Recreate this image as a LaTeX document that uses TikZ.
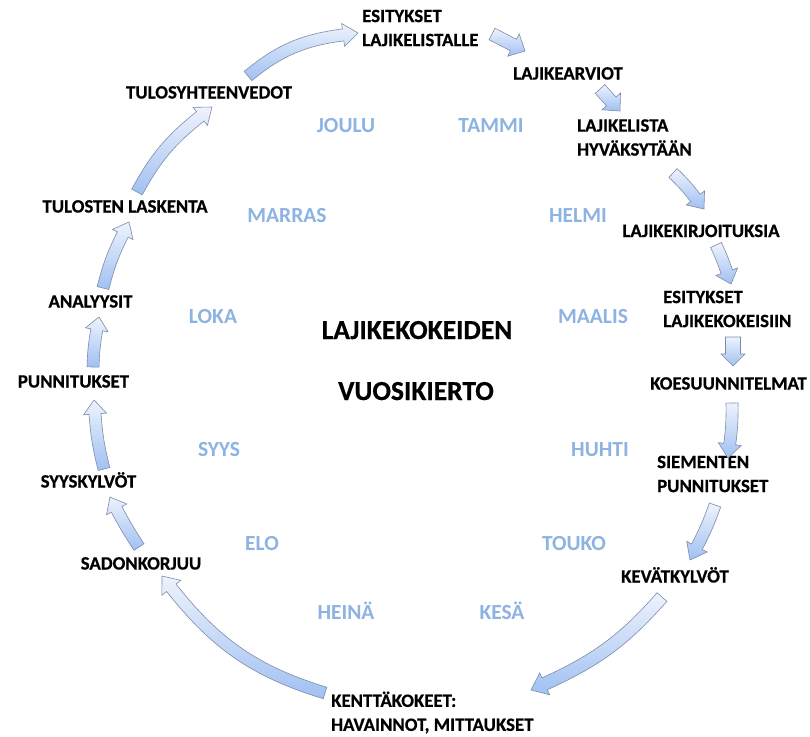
\documentclass[tikz,border=0pt]{standalone}
\usepackage{fontspec}
\setmainfont{Carlito}
\newfontfamily\heavyfont{Carlito}[BoldFeatures={FakeBold=0.6}]
\usetikzlibrary{calc}
\definecolor{monblue}{RGB}{141,179,226}
\definecolor{arrtop}{RGB}{238,243,252}
\definecolor{arrbot}{RGB}{160,192,242}
\definecolor{arredge}{RGB}{125,140,170}
% #1 tail coord, #2 tip coord, #3 bend, #4 shaft half width, #5 head half width, #6 head length
\newcommand\blockarr[6]{%
  \pgfpointanchor{#1}{center}\pgfgetlastxy{\bTx}{\bTy}%
  \pgfpointanchor{#2}{center}\pgfgetlastxy{\bHx}{\bHy}%
  \pgfmathsetmacro\bE{atan2(\bHy-\bTy,\bHx-\bTx)-(#3)}%
  \pgfmathsetmacro\bEb{\bE+180}%
  \coordinate (#1base) at ($(#2)+(\bEb:#6pt)$);%
  \pgfpointanchor{#1base}{center}\pgfgetlastxy{\bBx}{\bBy}%
  \pgfmathsetmacro\bS{2*atan2(\bBy-\bTy,\bBx-\bTx)-\bE}%
  \pgfmathsetmacro\bSb{\bS+180}%
  \pgfmathsetmacro\bSp{\bS+90}\pgfmathsetmacro\bSm{\bS-90}%
  \pgfmathsetmacro\bEp{\bE+90}\pgfmathsetmacro\bEm{\bE-90}%
  \draw[arrsty] ($(#1)+(\bSp:#4pt)$) to[out=\bS,in=\bEb] ($(#1base)+(\bEp:#4pt)$)
    -- ($(#1base)+(\bEp:#5pt)$) -- (#2) -- ($(#1base)+(\bEm:#5pt)$)
    -- ($(#1base)+(\bEm:#4pt)$) to[out=\bEb,in=\bS] ($(#1)+(\bSm:#4pt)$) -- cycle;%
}
\begin{document}
\begin{tikzpicture}[x=1pt,y=1pt,
  lbl/.style={font=\heavyfont\bfseries\fontsize{18.8}{24}\selectfont, inner sep=0pt},
  mon/.style={font=\bfseries\fontsize{21.5}{26}\selectfont, text=monblue, inner sep=0pt, anchor=base},
  ttl/.style={font=\heavyfont\bfseries\fontsize{27.5}{34}\selectfont, inner sep=0pt, anchor=base},
  arrsty/.style={draw=arredge, line width=0.6pt, top color=arrtop, bottom color=arrbot, line join=miter}]
\fill[white] (0,0) rectangle (810,-736);
\path[use as bounding box] (0,0) rectangle (810,-736);

% activity labels
\node[lbl, anchor=west, align=left] (n1) at (362,-28) {ESITYKSET\\LAJIKELISTALLE};
\node[lbl, anchor=base] (n2) at (568,-79.5) {LAJIKEARVIOT};
\node[lbl, anchor=west, align=left] (n3) at (577,-137.5) {LAJIKELISTA\\HYVÄKSYTÄÄN};
\node[lbl, anchor=base] (n4) at (701,-237) {LAJIKEKIRJOITUKSIA};
\node[lbl, anchor=west, align=left] (n5) at (663,-309) {ESITYKSET\\LAJIKEKOKEISIIN};
\node[lbl, anchor=base] (n6) at (728.5,-389.5) {KOESUUNNITELMAT};
\node[lbl, anchor=west, align=left] (n7) at (657,-474) {SIEMENTEN\\PUNNITUKSET};
\node[lbl, anchor=base] (n8) at (675,-582.5) {KEVÄTKYLVÖT};
\node[lbl, anchor=west, align=left] (n9) at (331,-712.5) {KENTTÄKOKEET:\\HAVAINNOT, MITTAUKSET};
\node[lbl, anchor=base] (n10) at (141,-569.5) {SADONKORJUU};
\node[lbl, anchor=base] (n11) at (88.5,-487.5) {SYYSKYLVÖT};
\node[lbl, anchor=base] (n12) at (73.5,-387.5) {PUNNITUKSET};
\node[lbl, anchor=base] (n13) at (90.5,-307.5) {ANALYYSIT};
\node[lbl, anchor=base] (n14) at (125,-212.5) {TULOSTEN LASKENTA};
\node[lbl, anchor=base] (n15) at (209,-98.5) {TULOSYHTEENVEDOT};

% months
\node[mon] (m1) at (346,-132.4) {JOULU};
\node[mon] (m2) at (491,-132.4) {TAMMI};
\node[mon] (m3) at (287,-222.4) {MARRAS};
\node[mon] (m4) at (578,-222.4) {HELMI};
\node[mon] (m5) at (213,-323.4) {LOKA};
\node[mon] (m6) at (593,-323.4) {MAALIS};
\node[mon] (m7) at (219,-456.4) {SYYS};
\node[mon] (m8) at (600,-456.4) {HUHTI};
\node[mon] (m9) at (262,-550.9) {ELO};
\node[mon] (m10) at (574,-550.9) {TOUKO};
\node[mon] (m11) at (346,-619.9) {HEINÄ};
\node[mon] (m12) at (502,-619.9) {KESÄ};

% title
\node[ttl] (t1) at (417,-339) {LAJIKEKOKEIDEN};
\node[ttl] (t2) at (416,-400) {VUOSIKIERTO};

% arrow end points
\coordinate (a1s) at (248,-76);  \coordinate (a1e) at (358,-33);
\coordinate (a2s) at (137,-192); \coordinate (a2e) at (212,-107);
\coordinate (a3s) at (103,-288); \coordinate (a3e) at (129,-222);
\coordinate (a4s) at (93,-367);  \coordinate (a4e) at (99,-317);
\coordinate (a5s) at (104,-469); \coordinate (a5e) at (94,-400);
\coordinate (a6s) at (139,-547); \coordinate (a6e) at (110,-497);
\coordinate (a7s) at (325,-693); \coordinate (a7e) at (162,-576);
\coordinate (a8s) at (662,-597); \coordinate (a8e) at (531,-690);
\coordinate (a9s) at (715,-505); \coordinate (a9e) at (690,-560);
\coordinate (a10s) at (732,-403); \coordinate (a10e) at (728,-458);
\coordinate (a11s) at (733,-337); \coordinate (a11e) at (733,-366);
\coordinate (a12s) at (716,-245); \coordinate (a12e) at (731,-284);
\coordinate (a13s) at (673,-173); \coordinate (a13e) at (704,-209);
\coordinate (a14s) at (600,-89);  \coordinate (a14e) at (620,-111);
\coordinate (a15s) at (492,-34);  \coordinate (a15e) at (525,-51);

\blockarr{a1s}{a1e}{14}{6}{11.5}{15}
\blockarr{a2s}{a2e}{10}{6}{11.5}{15}
\blockarr{a3s}{a3e}{5}{6}{11.5}{14}
\blockarr{a4s}{a4e}{3}{6}{11.5}{13}
\blockarr{a5s}{a5e}{4}{6}{11.5}{14}
\blockarr{a6s}{a6e}{2}{6}{11.5}{14}
\blockarr{a7s}{a7e}{16}{6}{12}{15}
\blockarr{a8s}{a8e}{11}{6.5}{12}{15}
\blockarr{a9s}{a9e}{3}{6}{11.5}{15}
\blockarr{a10s}{a10e}{3}{6}{11.5}{14}
\blockarr{a11s}{a11e}{0}{7.5}{12}{12}
\blockarr{a12s}{a12e}{2}{6}{11.5}{13}
\blockarr{a13s}{a13e}{3}{6}{11.5}{14}
\blockarr{a14s}{a14e}{0}{6.5}{12.5}{13}
\blockarr{a15s}{a15e}{0}{6.5}{12.5}{13}
\end{tikzpicture}
\end{document}
